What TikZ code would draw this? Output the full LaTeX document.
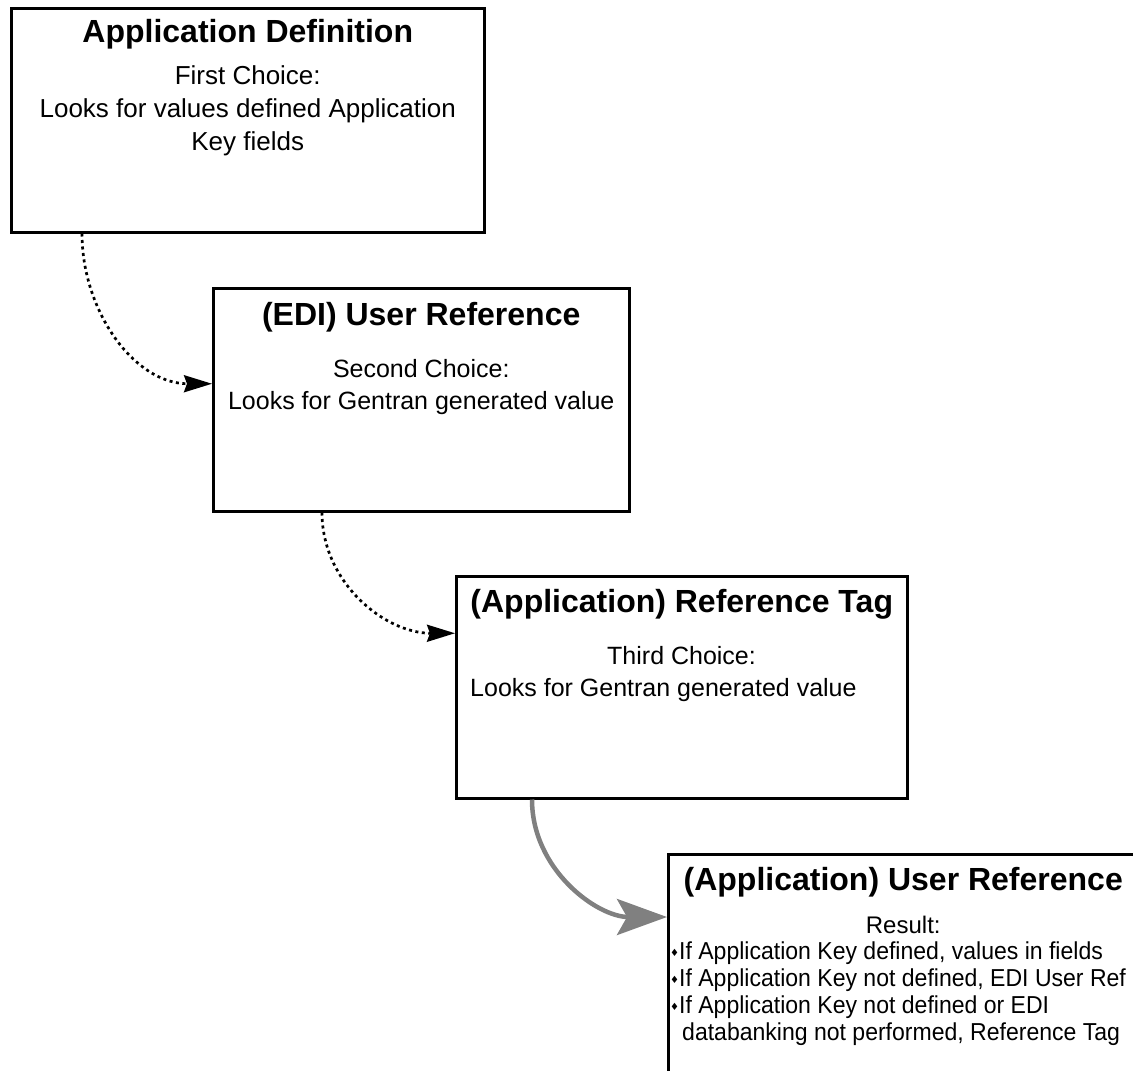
\documentclass[tikz,border=0pt]{standalone}
\usepackage{fontspec}
\setmainfont{Liberation Sans}
\newfontfamily\symfont{DejaVu Sans}
\newfontfamily\narrowfont{Liberation Sans}[FakeStretch=0.94]
\usetikzlibrary{arrows.meta,calc}

\definecolor{arrowgray}{RGB}{128,128,128}
\newcommand{\diabullet}{{\symfont\fontsize{10}{10}\selectfont\raisebox{3pt}{♦}}}

\tikzset{
    box/.style={draw, rectangle, line width=2.5pt, anchor=north west, inner sep=0pt},
    boxtitle/.style={anchor=base, font=\fontsize{32}{38}\selectfont\bfseries},
    boxbody/.style={anchor=base, align=center, font=\fontsize{26}{33}\selectfont},
    listbody/.style={anchor=base west, align=left, inner sep=0pt, font=\narrowfont\fontsize{24.5}{27}\selectfont},
    dotarrow/.style={line width=2.7pt, dash pattern=on 3pt off 3.5pt, -{Stealth[length=28pt,width=17pt,inset=3pt]}},
    grayarrow/.style={draw=arrowgray, line width=4.5pt, -{Stealth[length=50pt,width=36pt,inset=10pt,fill=arrowgray]}}
}

\begin{document}
\begin{tikzpicture}[x=1pt,y=-1pt]
        \useasboundingbox (0,0) rectangle (1133,1071);
        \clip (0,0) rectangle (1133,1071);

        % boxes
        \node[box, minimum width=473pt, minimum height=224pt] (appdef) at (10,7) {};
        \node[box, minimum width=416pt, minimum height=223pt] (ediref) at (212,287) {};
        \node[box, minimum width=451pt, minimum height=222pt] (reftag) at (455,575) {};
        \node[box, minimum width=470pt, minimum height=240pt] (userref) at (667,853) {};

        % texts
        \node[boxtitle] (appdef-title) at ([yshift=-35pt]appdef.north) {Application Definition};
        \node[boxbody] (appdef-text) at ([yshift=-143pt]appdef.north) {First Choice:\\Looks for values defined Application\\Key fields};

        \node[boxtitle] (ediref-title) at ([yshift=-38pt]ediref.north) {(EDI) User Reference};
        \node[boxbody, font=\fontsize{25}{32}\selectfont] (ediref-text) at ([yshift=-122pt]ediref.north) {Second Choice:\\Looks for Gentran generated value};

        \node[boxtitle] (reftag-title) at ([yshift=-37pt]reftag.north) {(Application) Reference Tag};
        \node[listbody, font=\fontsize{25}{32}\selectfont] (reftag-text) at ([xshift=15pt,yshift=-121pt]reftag.north west) {\hspace*{137pt}Third Choice:\\Looks for Gentran generated value};

        \node[boxtitle] (userref-title) at ([yshift=-37pt]userref.north) {(Application) User Reference};
        \node[boxbody, font=\fontsize{24}{27}\selectfont] (userref-result) at ([yshift=-80pt]userref.north) {Result:};
        \node[listbody] (userref-list) at ([xshift=3pt,yshift=-187pt]userref.north west)
            {\diabullet If Application Key defined, values in fields\\
             \diabullet If Application Key not defined, EDI User Ref\\
             \diabullet If Application Key not defined or EDI\\
             \hspace*{12pt}databanking not performed, Reference Tag};

        % connectors
        \draw[dotarrow] ([xshift=72pt]appdef.south west) to[out=-90,in=180] ([yshift=16pt]ediref.west);
        \draw[dotarrow] ([xshift=110pt]ediref.south west) to[out=-90,in=180] ([yshift=54pt]reftag.west);
        \draw[grayarrow] ([xshift=77pt]reftag.south west) to[out=-90,in=180] ([yshift=-64pt]userref.north west);
\end{tikzpicture}
\end{document}
